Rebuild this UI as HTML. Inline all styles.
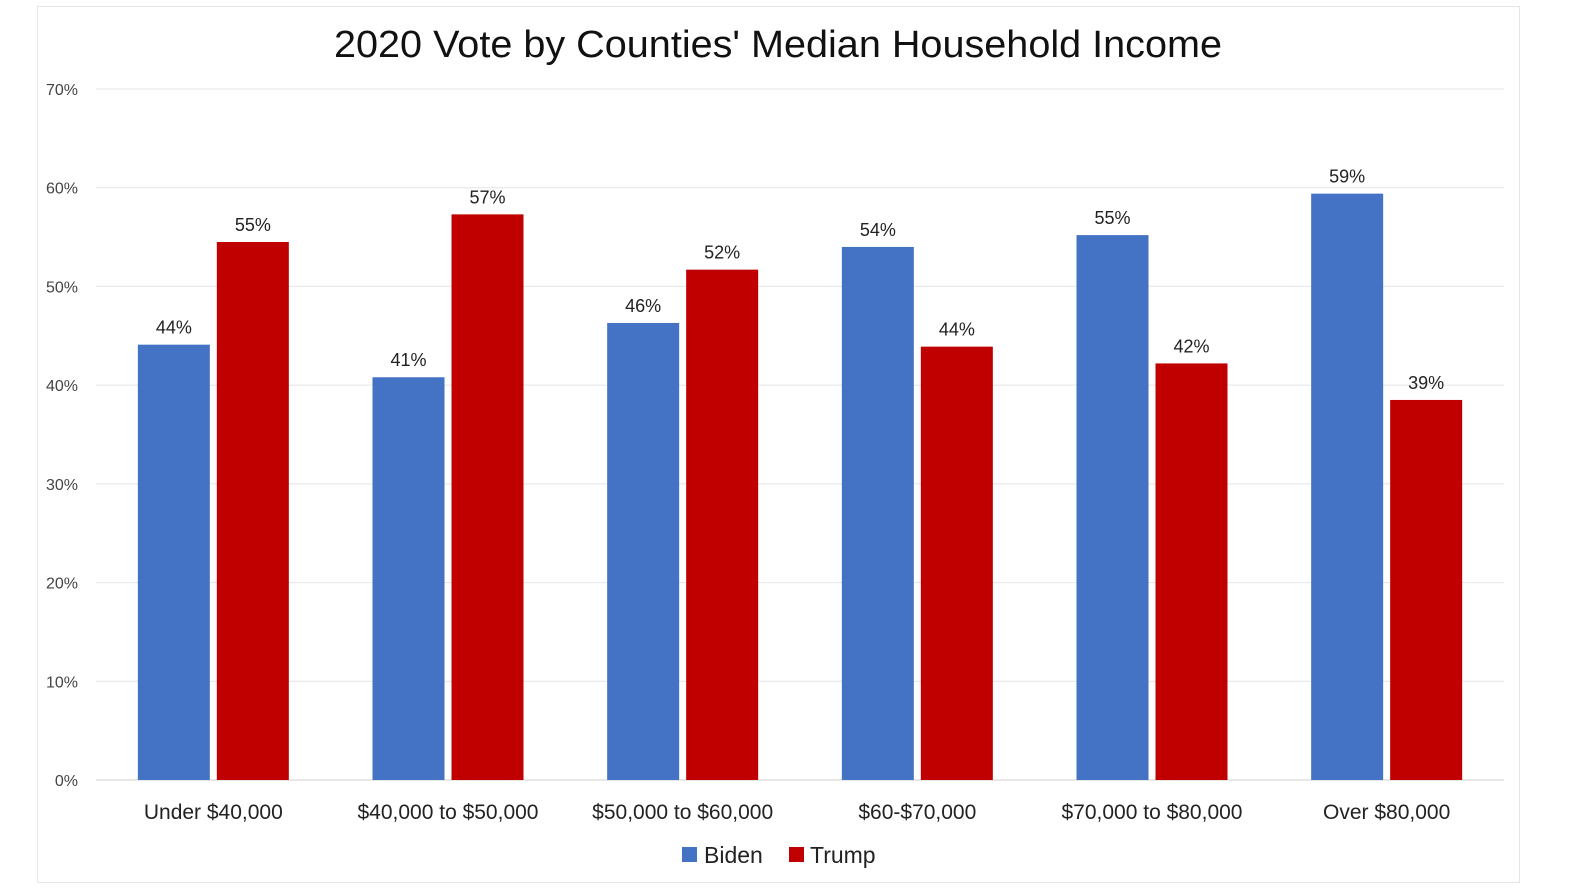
<!DOCTYPE html>
<html><head><meta charset="utf-8"><style>
html,body{margin:0;padding:0;background:#fff;}
svg{display:block;font-family:"Liberation Sans",sans-serif;}
</style></head><body>
<svg id="chart" width="1584" height="892">
<rect x="37.5" y="6.5" width="1482" height="876" fill="#fff" stroke="#e6e6e6"/>
<text x="778" y="57" text-anchor="middle" font-size="38" textLength="888" lengthAdjust="spacingAndGlyphs" fill="#111">2020 Vote by Counties' Median Household Income</text>
<g id="grid"></g><g id="bars"></g><g id="labels"></g>
<g>
<rect x="682" y="847" width="15" height="15" fill="#4472c4"/>
<text x="704" y="863" font-size="23" fill="#222">Biden</text>
<rect x="789" y="847" width="15" height="15" fill="#c00000"/>
<text x="810" y="863" font-size="23" fill="#222">Trump</text>
</g>
</svg>
<script>
const categories=["Under $40,000","$40,000 to $50,000","$50,000 to $60,000","$60-$70,000","$70,000 to $80,000","Over $80,000"];
const biden=[44.1,40.8,46.3,54.0,55.2,59.4];
const trump=[54.5,57.3,51.7,43.9,42.2,38.5];
const bidenLabels=["44%","41%","46%","54%","55%","59%"];
const trumpLabels=["55%","57%","52%","44%","42%","39%"];
const yTicks=[0,10,20,30,40,50,60,70];
const NS="http://www.w3.org/2000/svg";
const x0=96,x1=1504,yBase=780,yTop=89,yMax=70;
const y=v=>yBase-(v/yMax)*(yBase-yTop);
const gw=(x1-x0)/categories.length;
const bw=72,gap=7;
function mk(tag,attrs,parent,text){const e=document.createElementNS(NS,tag);for(const k in attrs)e.setAttribute(k,attrs[k]);if(text!=null)e.textContent=text;parent.appendChild(e);return e;}
const grid=document.getElementById('grid'),bars=document.getElementById('bars'),labels=document.getElementById('labels');
yTicks.forEach(t=>{
  const l=mk('line',{x1:x0,x2:x1,y1:y(t),y2:y(t),stroke:t===0?'#d0d0d0':'#e4e4e4','stroke-width':1},grid);
  
  
  const tx=mk('text',{x:78,y:y(t)+6,'text-anchor':'end','font-size':16,fill:'#444'},grid,t+'%');
  
  
});
categories.forEach((c,i)=>{
  const cx=x0+gw*(i+0.5);
  const bx=cx-gap/2-bw, tx=cx+gap/2;
  const b=mk('rect',{x:bx,y:y(biden[i]),width:bw,height:yBase-y(biden[i]),fill:'#4472c4'},bars);
  
  
  const t=mk('rect',{x:tx,y:y(trump[i]),width:bw,height:yBase-y(trump[i]),fill:'#c00000'},bars);
  
  
  const bl=mk('text',{x:bx+bw/2,y:y(biden[i])-11,'text-anchor':'middle','font-size':18,fill:'#222'},labels,bidenLabels[i]);
  
  
  const tl=mk('text',{x:tx+bw/2,y:y(trump[i])-11,'text-anchor':'middle','font-size':18,fill:'#222'},labels,trumpLabels[i]);
  
  
  const cl=mk('text',{x:cx,y:819,'text-anchor':'middle','font-size':21,fill:'#222'},labels,c);
  
  
});
</script>
</body></html>
